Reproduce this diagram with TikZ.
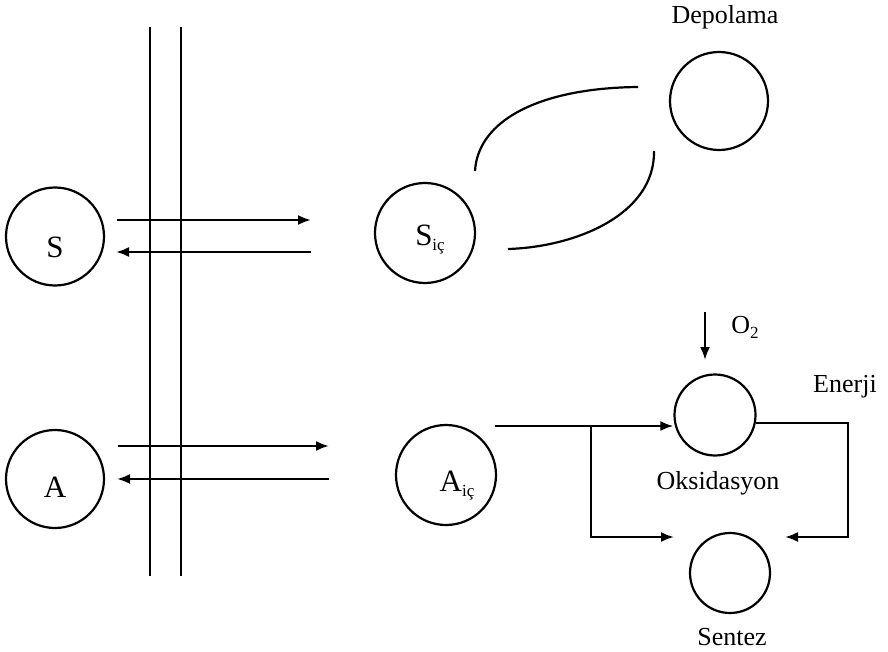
\documentclass[tikz,border=0pt]{standalone}
\usepackage{fontspec}
\setmainfont{Liberation Serif}
\usetikzlibrary{arrows.meta}
\newcommand{\sub}[1]{\raisebox{-5pt}{\fontsize{17}{17}\selectfont #1}}
\begin{document}
\begin{tikzpicture}[x=1pt,y=-1pt,
  every node/.style={font=\fontsize{26}{30}\selectfont},
  big/.style={font=\fontsize{31}{34}\selectfont},
  ring/.style={draw,circle,line width=2.2pt,inner sep=0pt},
  wall/.style={line width=2.2pt},
  link/.style={line width=2.2pt},
  arr/.style={line width=2.2pt,-{Latex[length=13pt,width=10pt]}}]
\useasboundingbox (0,0) rectangle (888,652);

% circles
\node[ring,minimum size=98pt]  (S)   at (55,236.5) {};
\node[ring,minimum size=98pt]  (A)   at (55,479) {};
\node[ring,minimum size=100pt] (Sic) at (425,233) {};
\node[ring,minimum size=100pt] (Aic) at (446,475) {};
\node[ring,minimum size=98pt]  (Dep) at (719,101) {};
\node[ring,minimum size=81pt]  (Oks) at (715,415) {};
\node[ring,minimum size=80pt]  (Sen) at (730,573) {};

% texts
\node[big] (Stxt)   at (55,247) {S};
\node[big] (Atxt)   at (55,487) {A};
\node[big] (Sictxt) at (430,240) {S\sub{iç}};
\node[big] (Aictxt) at (457,486) {A\sub{iç}};
\node (DepTxt) at (725,17)  {Depolama};
\node (OksTxt) at (718,483) {Oksidasyon};
\node (SenTxt) at (732,637) {Sentez};
\node (EnTxt)  at (845,387) {Enerji};
\node (O2Txt)  at (745,327) {O\sub{2}};

% membrane
\draw[wall] (150,27) -- (150,576);
\draw[wall] (181,27) -- (181,576);

% transport across the membrane
\coordinate (s1) at (117,220);  \coordinate (s2) at (311,220);
\coordinate (s3) at (311,252);  \coordinate (s4) at (116,252);
\coordinate (a1) at (118,446);  \coordinate (a2) at (329,446);
\coordinate (a3) at (329,479);  \coordinate (a4) at (117,479);
\draw[arr] (s1) -- (s2);
\draw[arr] (s3) -- (s4);
\draw[arr] (a1) -- (a2);
\draw[arr] (a3) -- (a4);

% storage exchange
\coordinate (u1) at (475,171);  \coordinate (u2) at (638,87);
\coordinate (l1) at (654,151);  \coordinate (l2) at (508,249);
\draw[link] (u1) .. controls (478,120) and (540,88) .. (u2);
\draw[link] (l1) .. controls (655,215) and (575,247) .. (l2);

% oxygen
\coordinate (o1) at (705,312);  \coordinate (o2) at (705,360);
\draw[arr] (o1) -- (o2);

% oxidation and synthesis
\coordinate (c1) at (495,426);
\coordinate (c2) at (591,426);
\coordinate (c3) at (674,537);
\coordinate (e1) at (756,423);
\coordinate (e2) at (848,423);
\coordinate (e3) at (785,537);
\draw[arr] (c1) -- (c1 -| Oks.west);
\draw[arr] (c2) |- (c3);
\draw[arr] (e1) -- (e2) |- (e3);
\end{tikzpicture}
\end{document}
